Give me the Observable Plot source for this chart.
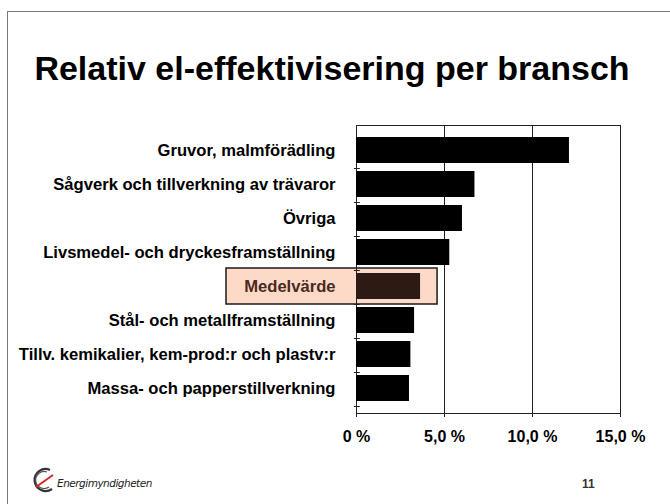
<!DOCTYPE html>
<html>
<head>
<meta charset="utf-8">
<script src="https://cdn.jsdelivr.net/npm/d3@7"></script>
<script src="https://cdn.jsdelivr.net/npm/@observablehq/plot@0.6"></script>
<style>
  html, body { margin: 0; padding: 0; background: #fff; }
  #page { position: relative; width: 670px; height: 504px; overflow: hidden; background: #fff; font-family: "Liberation Sans", Arial, sans-serif; }
  #bl { position: absolute; left: 7px; top: 11px; width: 1px; height: 493px; background: #7a7a7a; }
  #bt { position: absolute; left: 7px; top: 11px; width: 663px; height: 1px; background: #7a7a7a; }
  #title { position: absolute; left: 0; width: 664px; top: 49px; text-align: center; font-weight: bold; font-size: 34px; color: #000; }
  #chart { position: absolute; left: 0; top: 100px; }
  #logo { position: absolute; left: 30px; top: 466px; }
  #brand { position: absolute; left: 57px; top: 477px; font-style: italic; font-size: 10.5px; color: #222; font-family: "DejaVu Sans", sans-serif; letter-spacing: -0.5px; }
  #pnum { position: absolute; left: 582px; top: 477px; font-size: 12px; font-weight: bold; color: #333; }
</style>
</head>
<body>
<div id="page">
  <div id="bl"></div>
  <div id="bt"></div>
  <div id="title">Relativ el-effektivisering per bransch</div>
  <div id="chart"></div>
  <svg id="logo" width="28" height="28" viewBox="0 0 28 28">
    <path d="M20 4 A11 11 0 1 0 22 23" fill="none" stroke="#333" stroke-width="2.2"/>
    <path d="M17 6 A8.5 8.5 0 1 0 19 21" fill="none" stroke="#555" stroke-width="1.2"/>
    <path d="M6 21 L23 9" fill="none" stroke="#d42a2a" stroke-width="2"/>
  </svg>
  <div id="brand">Energimyndigheten</div>
  <div id="pnum">11</div>
</div>
<script>
const categories = [
  "Gruvor, malmförädling",
  "Sågverk och tillverkning av trävaror",
  "Övriga",
  "Livsmedel- och dryckesframställning",
  "Medelvärde",
  "Stål- och metallframställning",
  "Tillv. kemikalier, kem-prod:r och plastv:r",
  "Massa- och papperstillverkning"
];
const values = [12.1, 6.73, 6.02, 5.3, 3.64, 3.3, 3.09, 3.01];
const xTicks = [0, 5, 10, 15];
const xTickLabels = ["0 %", "5,0 %", "10,0 %", "15,0 %"];
const highlighted = "Medelvärde";

const data = categories.map((name, i) => ({name, value: values[i]}));
const highlight = data.filter(d => d.name === highlighted);

const chart = Plot.plot({
  width: 670,
  height: 358,
  marginLeft: 356,
  marginRight: 50,
  marginTop: 25,
  marginBottom: 45,
  style: {fontFamily: "'Liberation Sans', Arial, sans-serif", fontSize: "16px", fontWeight: "bold", background: "transparent", overflow: "visible", color: "#000"},
  x: {domain: [0, 15]},
  y: {domain: categories, padding: 0.24, axis: null},
  marks: [
    Plot.barX(highlight, {y: "name", x1: 0, x2: "value", fill: "#fdd9c7", stroke: "#1a1a1a", strokeWidth: 1.5, insetLeft: -130, insetRight: -17, insetTop: -5, insetBottom: -5}),
    Plot.ruleX([5, 10], {stroke: "#222", strokeWidth: 1}),
    Plot.frame({stroke: "#222", strokeWidth: 1}),
    Plot.barX(data, {y: "name", x: "value", fill: d => d.name === highlighted ? "#2e1a14" : "#000"}),
    Plot.ruleY(categories, {y: d => d, x1: -0.12, x2: 0.22, dy: 18, stroke: "#222"}),
    Plot.text(data, {y: "name", x: 0, text: "name", textAnchor: "end", dx: -21, fontSize: 16.6, fontWeight: "bold", fill: d => d.name === highlighted ? "#4a2a22" : "#000"}),
    Plot.axisX({ticks: xTicks, tickFormat: d => xTickLabels[xTicks.indexOf(d)], tickSize: 4, tickPadding: 13, fontSize: 16, fontWeight: "bold", label: null, stroke: "#222"})
  ]
});
document.getElementById("chart").appendChild(chart);
</script>
</body>
</html>
